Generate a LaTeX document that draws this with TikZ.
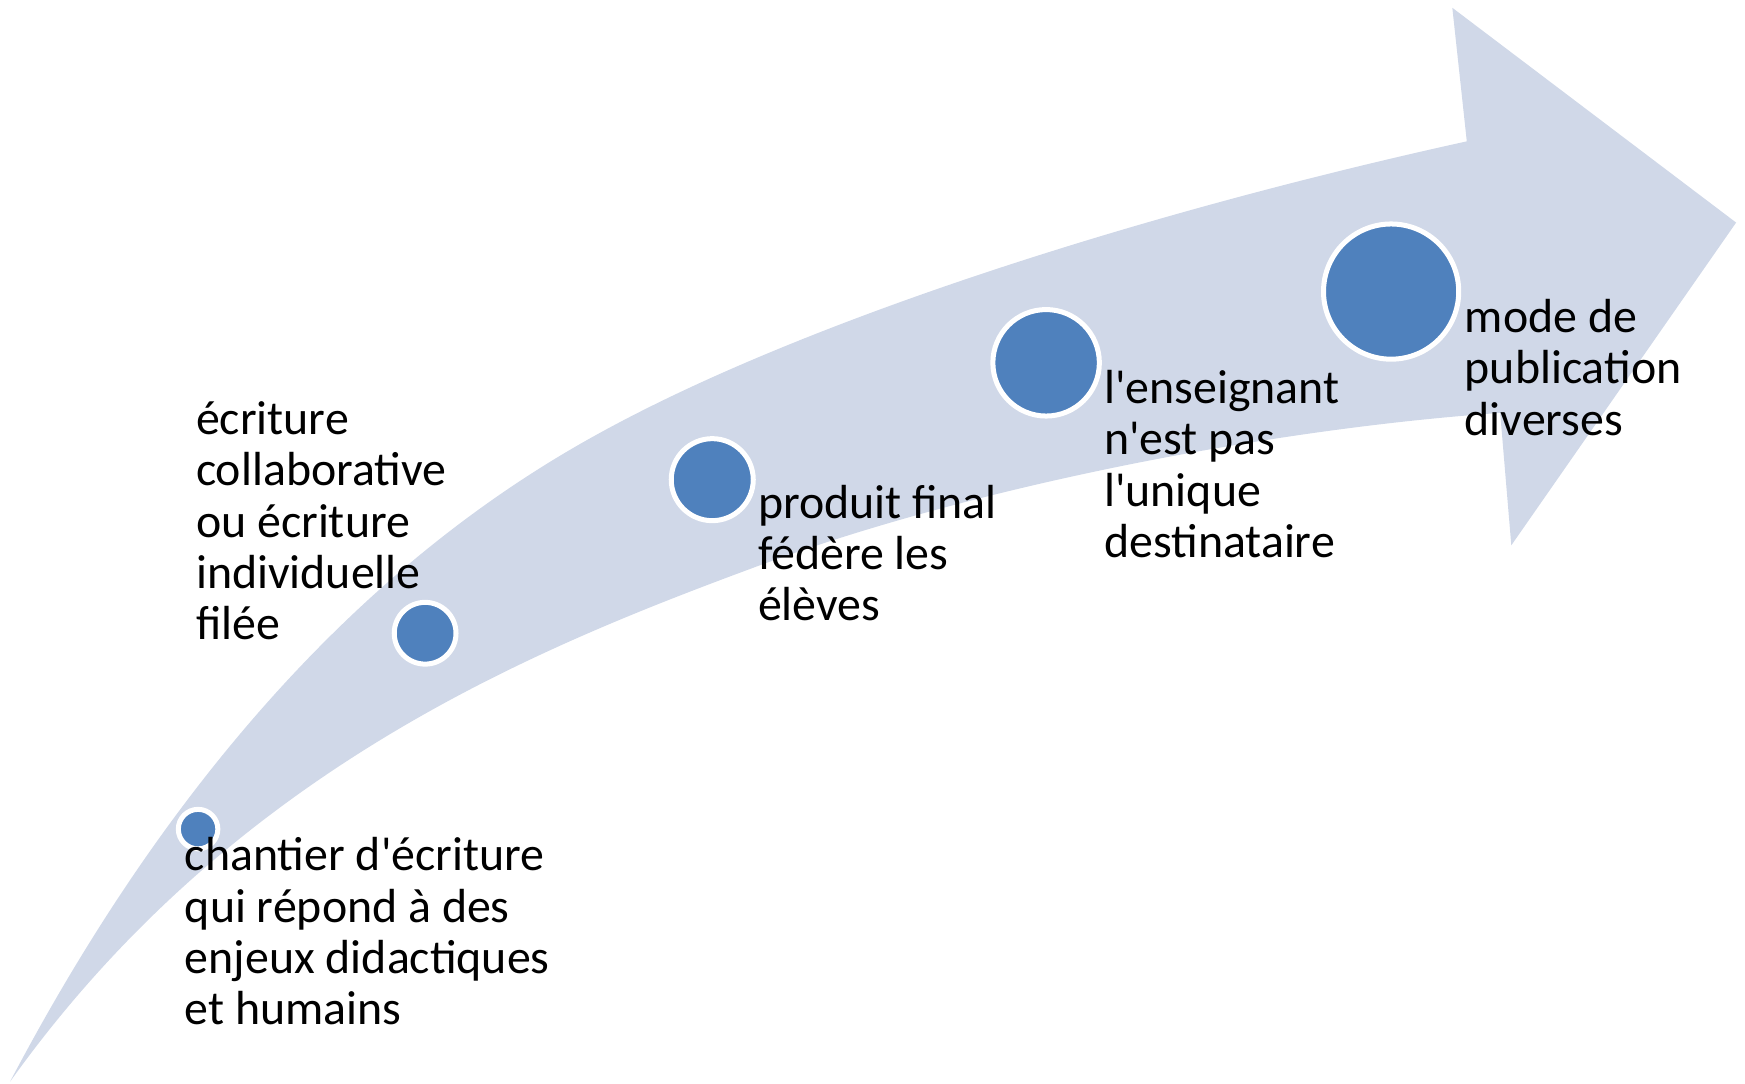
\documentclass[tikz,border=0pt]{standalone}
\usepackage{fontspec}
\setmainfont{Carlito}
\definecolor{shaftblue}{HTML}{D0D8E8}
\definecolor{dotblue}{HTML}{4F81BD}
\newcommand{\ap}{\textquotesingle}

\begin{document}
\begin{tikzpicture}[x=1pt,y=-1pt]
\tikzstyle{every node}+=[inner sep=0pt]
\tikzstyle{dot}=[circle,fill=dotblue,draw=white,line width=4.5pt]
\tikzstyle{lbl}=[anchor=base west,align=left,font=\fontsize{43}{46.2}\selectfont]
\useasboundingbox (0,0) rectangle (1568,974);
\fill [shaftblue] (9,972) .. controls (189,630) and (389,471) .. (539,389)
  .. controls (719,290) and (1018,193) .. (1318,127)
  -- (1305,7) -- (1560,200) -- (1358,490) -- (1348,371)
  .. controls (1148,385) and (880,435) .. (680,509)
  .. controls (480,583) and (209,692) .. (9,972) -- cycle;
\node [dot,minimum size=35.5] (c1) at (178,745) {};
\node [dot,minimum size=55.5] (c2) at (382,569) {};
\node [dot,minimum size=73.7] (c3) at (640,431) {};
\node [dot,minimum size=95.7] (c4) at (940,326) {};
\node [dot,minimum size=121.5] (c5) at (1250,262) {};
\node [lbl] (t1) at (166,921) {chantier d\ap écriture\\qui répond à des\\enjeux didactiques\\et humains};
\node [lbl] (t2) at (176,575) {écriture\\collaborative\\ou écriture\\individuelle\\filée};
\node [lbl] (t3) at (681,558) {produit final\\fédère les\\élèves};
\node [lbl] (t4) at (992,501) {l\ap enseignant\\n\ap est pas\\l\ap unique\\destinataire};
\node [lbl] (t5) at (1316,391) {mode de\\publication\\diverses};
\end{tikzpicture}
\end{document}
